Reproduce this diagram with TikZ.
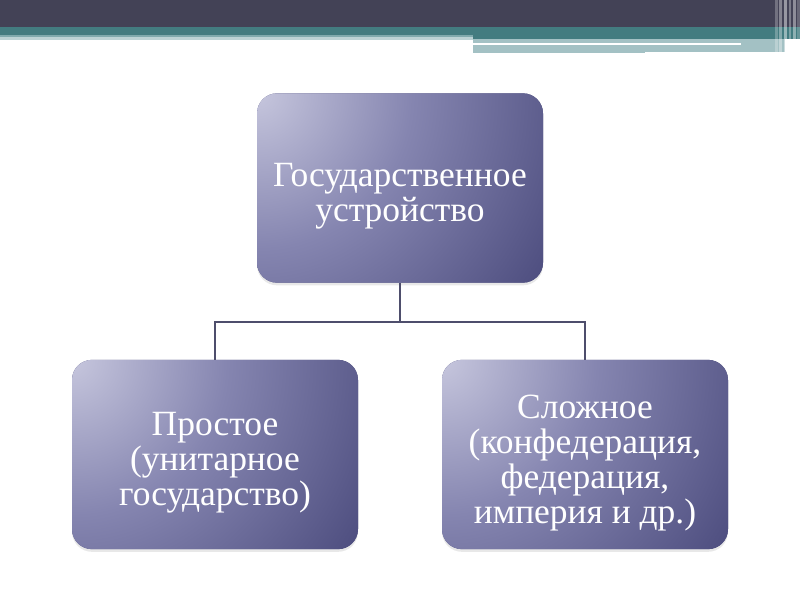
\documentclass[tikz,border=0pt]{standalone}
\usepackage{fontspec}
\setmainfont{Liberation Serif}
\usetikzlibrary{shadows}
\definecolor{barDark}{HTML}{434256}
\definecolor{barTeal}{HTML}{437C80}
\definecolor{barLight}{HTML}{A3C1C4}
\definecolor{barPale}{HTML}{BCD3D5}
\definecolor{barMid}{HTML}{80AAAD}
\definecolor{boxLight}{HTML}{C6C6DD}
\definecolor{boxMidA}{HTML}{8585B0}
\definecolor{boxDark}{HTML}{4A4A7C}
\definecolor{lineCol}{HTML}{4E4E6C}
\pgfdeclareradialshading{boxshade}{\pgfpoint{0bp}{0bp}}{color(0bp)=(boxLight); color(11bp)=(boxMidA); color(25bp)=(boxDark); color(50bp)=(boxDark)}
\tikzset{
  orgbox/.style={rounded corners=15pt, fill=boxDark,
    drop shadow={opacity=0.18, shadow xshift=0pt, shadow yshift=-2pt},
    path picture={\shade[shading=boxshade] (path picture bounding box.north west) circle (265pt);},
    minimum width=214.5pt, minimum height=142pt, inner sep=0pt},
  boxtext/.style={align=center, text=white, inner sep=0pt,
    font=\fontsize{26.6}{26.3}\selectfont},
  link/.style={draw=lineCol, line width=1.1pt}
}
\begin{document}
\begin{tikzpicture}[x=0.75pt,y=-0.75pt]
\useasboundingbox (0,0) rectangle (800,600);
\fill[white] (0,0) rectangle (800,600);
% top bar
\fill[barDark] (0,0) rectangle (800,27);
\fill[barTeal] (0,27) rectangle (800,35);
\fill[barTeal] (473,35) rectangle (800,39);
\fill[barMid] (0,35) rectangle (473,37);
\fill[barPale] (0,37) rectangle (473,40);
\fill[barLight] (473,39) rectangle (785,53);
\fill[white] (473,42.5) rectangle (741,45);
\fill[white] (645,52) rectangle (785,53);
\foreach \xa/\xb/\op in {775/778/0.25, 779/782/0.35, 784/787/0.45, 789/791/0.3, 793/796/0.4, 797/800/0.2}{
  \fill[white, opacity=\op] (\xa,0) rectangle (\xb,55);
}
% boxes
\node[orgbox] (top) at (400,188) {};
\node[orgbox] (left) at (215,454.5) {};
\node[orgbox] (right) at (585,454.5) {};
\node[boxtext] (topT) at ([yshift=-6pt]top.center) {Государственное\\устройство};
\node[boxtext] (leftT) at ([yshift=-6pt]left.center) {Простое\\(унитарное\\государство)};
\node[boxtext] (rightT) at ([yshift=-6.5pt]right.center) {Сложное\\(конфедерация,\\федерация,\\империя и др.)};
% connectors
\coordinate (j) at (400,322);
\draw[link] (top.south) -- (j);
\draw[link] (j) -| (left.north);
\draw[link] (j) -| (right.north);
\end{tikzpicture}
\end{document}
